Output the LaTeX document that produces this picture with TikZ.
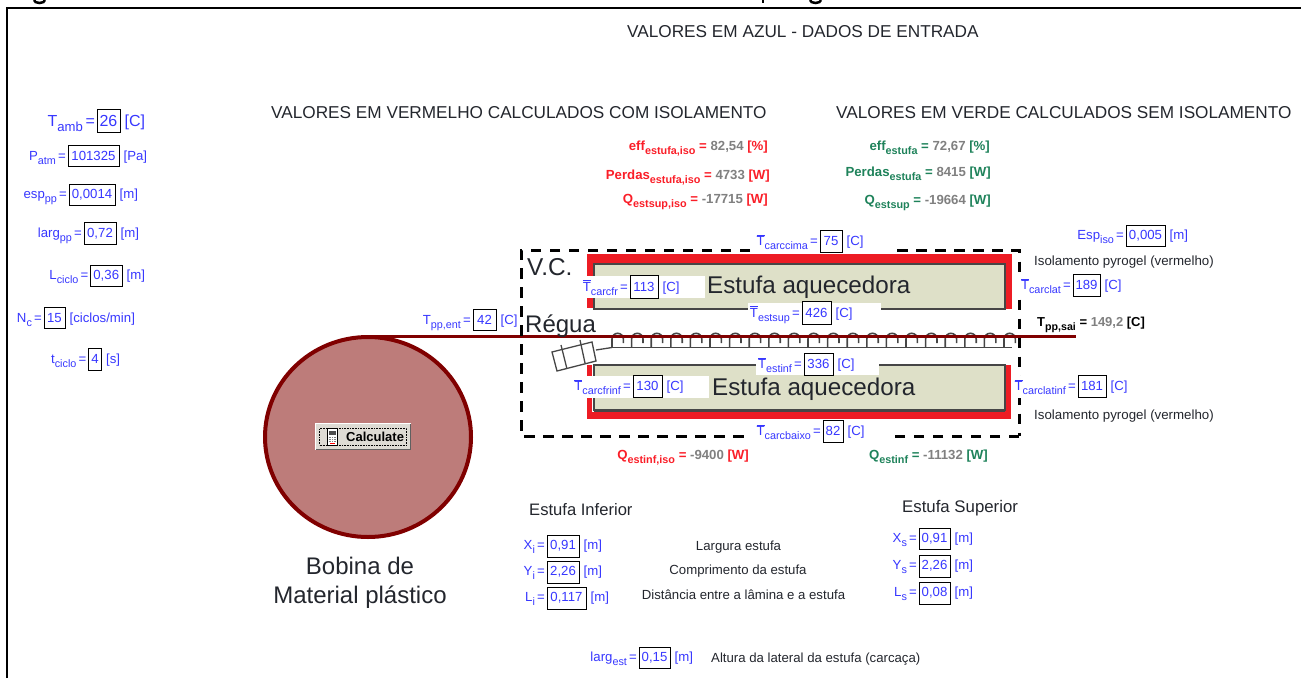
\documentclass[tikz,border=0pt]{standalone}
\usepackage{fontspec}
\usetikzlibrary{shapes.geometric}
\setmainfont{Liberation Sans}
\definecolor{inblue}{RGB}{55,55,255}
\definecolor{resred}{RGB}{250,30,40}
\definecolor{resgreen}{RGB}{30,130,90}
\definecolor{resgray}{RGB}{128,128,128}
\definecolor{coilred}{RGB}{128,0,0}
\definecolor{coilfill}{RGB}{189,124,122}
\definecolor{beige}{RGB}{222,224,200}
\definecolor{isored}{RGB}{237,28,36}
\definecolor{heatline}{RGB}{70,70,70}
\definecolor{btn}{RGB}{222,219,212}
\definecolor{dtxt}{RGB}{35,38,45}
\newcommand\fsz[1]{\fontsize{#1}{#1}\selectfont}
\newcommand\sbs[1]{\raisebox{-.32em}{\scalebox{.82}{#1}}}
\newcommand\Tbar{$\overline{\mbox{T}}$}
% \inp[size]{name}{xl}{xr}{yt}{yb}{label}{value}{unit}
\newcommand\inp[8][13.2]{%
  \node[boxv,font=\fsz{#1},minimum width={(#4)-(#3)},minimum height={(#6)-(#5)}] (#2) at ({(#3+#4)/2},{(#5+#6)/2}) {#8};
  \node[lbl,font=\fsz{#1},anchor=base east] (#2-l) at ([xshift=-1.5pt]#2.base west) {#7\,=};
}
\newcommand\unt[3][13.2]{\node[lbl,font=\fsz{#1},anchor=base west] (#2-u) at ([xshift=4pt]#2.base east) {#3};}
% \res{name}{xr}{y}{colour}{word}{sub}{value}{unit}
\newcommand\res[8]{\node[anchor=base east,inner sep=0pt,font=\fsz{13.2}\bfseries,text=#4] (#1) at (#2,#3) {#5\sbs{#6} = \textcolor{resgray}{#7} [#8]};}
\tikzset{
  boxv/.style={draw=black,line width=.9pt,fill=white,text=inblue,inner sep=0pt,align=center},
  lbl/.style={text=inblue,inner sep=0pt},
  plain/.style={text=dtxt,inner sep=0pt},
  title/.style={plain,font=\fsz{17.2},anchor=base west},
  cover/.style={fill=white,draw=none},
  heatbox/.style={fill=beige,draw=heatline,line width=1.6pt},
  hook/.style={draw=heatline,line width=1.6pt},
  vc/.style={line width=3pt,black,dash pattern=on 10.5pt off 8.5pt},
}
\begin{document}
\begin{tikzpicture}[x=1pt,y=-1pt]
\useasboundingbox (0,0) rectangle (1301,678);
% frame
\draw[line width=2pt,black] (6.5,678) -- (6.5,7.5) -- (1301,7.5);
\draw[line width=2.5pt,black] (34,0) arc[start angle=180,end angle=0,x radius=5.5,y radius=3];
\draw[line width=2pt,black] (763,0) -- (763,3);
\draw[line width=2.5pt,black] (810,0) arc[start angle=180,end angle=0,x radius=5.5,y radius=3];
% titles
\node[title] (t1) at (627,37.5) {VALORES EM AZUL - DADOS DE ENTRADA};
\node[title] (t2) at (271,118.5) {VALORES EM VERMELHO CALCULADOS COM ISOLAMENTO};
\node[title] (t3) at (836,118.5) {VALORES EM VERDE CALCULADOS SEM ISOLAMENTO};
% bobina
\node[ellipse,draw=coilred,fill=coilfill,line width=4pt,minimum width=206pt,minimum height=200pt,inner sep=0pt,outer sep=0pt] (bob) at (368,437) {};
\coordinate (lineend) at (1076,336.5);
% heaters: insulation
\fill[isored] (587,254) rectangle (1012,264);
\fill[isored] (587,254) rectangle (594,308);
\fill[isored] (1005,254) rectangle (1012,309);
\fill[isored] (587,412) rectangle (1011,419);
\fill[isored] (587,365) rectangle (592,419);
\fill[isored] (1005,365) rectangle (1011,419);
\node[heatbox,minimum width=411pt,minimum height=45pt,inner sep=0pt] (hs) at (799.5,286.5) {};
\node[heatbox,minimum width=411pt,minimum height=45pt,inner sep=0pt] (hi) at (799.5,387.5) {};
\draw[heatline,line width=.8pt] (594,411) -- (1005,411);
% coils
\coordinate (base0) at (612,347.5);
\coordinate (base1) at (1012,347.5);
\draw[hook] (base0) -- (base1);
\foreach \k in {0,...,20}{
  \draw[hook] ({612+19.6*\k},347.5) -- ({612+19.6*\k},339) arc[start angle=180,end angle=360,radius=5.7] -- ++(0,4);
}
\draw[coilred,line width=2.6pt] (bob.north |- lineend) -- (lineend);
% rollers
\draw[heatline,line width=1.3pt,fill=white] (552,352) -- (592,342) -- (596,361) -- (557,371) -- cycle;
\draw[heatline,line width=1.3pt] (561,345) -- (567,369) (580,340) -- (585,363);
\draw[heatline,line width=1.3pt] (596,350) -- (base0);
% control volume
\draw[vc] (750,250) -- (521,250) -- (521,436) -- (752,436);
\draw[vc] (1019,436) -- (892,436);
\draw[vc] (897,250.5) -- (1019,250.5) -- (1019,436);
% covers
\fill[cover] (584,276) rectangle (705,298);
\fill[cover] (574,376) rectangle (709,398);
\fill[cover] (748,303) rectangle (881,326);
\fill[cover] (756,357) rectangle (879,375);
\fill[cover] (1017.5,276) rectangle (1071,297);
\fill[cover] (1012,376) rectangle (1077,398);
\fill[cover] (752,231) rectangle (860,252.5);
\fill[cover] (752,421) rectangle (865,443);
% texts in the drawing
\node[plain,font=\fsz{24.2},anchor=base west] (est1) at (707,293) {Estufa aquecedora};
\node[plain,font=\fsz{24.2},anchor=base west] (est2) at (712,395) {Estufa aquecedora};
\node[plain,font=\fsz{24.4},anchor=base west] (vcl) at (527,275) {V.C.};
\node[plain,font=\fsz{24},anchor=base west] (reg) at (525,332.5) {Régua};
% button
\node[fill=btn,minimum width=95pt,minimum height=26pt,inner sep=0pt,outer sep=0pt] (btn) at (363,436.5) {};
\draw[white,line width=1.2pt] (btn.south west) -- (btn.north west) -- (btn.north east);
\draw[gray!75!black,line width=1.8pt] (btn.north east) -- (btn.south east) -- (btn.south west);
\node[draw=black,densely dotted,line width=.6pt,minimum width=87pt,minimum height=17pt,inner sep=0pt] (btni) at (363,436.5) {};
\node[draw=black,fill=white,line width=.8pt,minimum width=10pt,minimum height=17pt,inner sep=0pt] (calc) at (332,437) {};
\fill[black!70] (328.5,430.5) rectangle (335.5,435);
\fill[red] (330,442.5) rectangle (335,443.5);
\foreach \yy in {437,439,441}{\draw[gray,line width=.7pt,densely dotted] (328.5,\yy) -- (335.5,\yy);}
\node[inner sep=0pt,font=\fsz{13}\bfseries,anchor=base west] (calcl) at (346,441) {Calculate};
% bobina label
\node[plain,font=\fontsize{24}{29}\selectfont,align=center] (boblbl) at (360,583) {Bobina de\\Material plástico};
% left inputs
\inp[16]{tamb}{97}{120}{109}{132}{T\sbs{amb}}{26}\unt[16]{tamb}{[C]}
\inp{patm}{68}{119}{145}{166}{P\sbs{atm}}{101325}\unt{patm}{[Pa]}
\inp{esp}{69}{115}{184}{205}{esp\sbs{pp}}{0,0014}\unt{esp}{[m]}
\inp{larg}{84}{116}{222.5}{244}{larg\sbs{pp}}{0,72}\unt{larg}{[m]}
\inp{lcic}{90.5}{122}{265}{286.5}{L\sbs{ciclo}}{0,36}\unt{lcic}{[m]}
\inp{nc}{44}{65}{307}{328.5}{N\sbs{c}}{15}\unt{nc}{[ciclos/min]}
\inp{tcic}{88.5}{101.5}{348}{370}{t\sbs{ciclo}}{4}\unt{tcic}{[s]}
% drawing inputs
\inp{tent}{473}{496}{309}{330}{T\sbs{pp,ent}}{42}\unt{tent}{[C]}
\inp{tcima}{820}{842}{230}{252}{\Tbar\sbs{carccima}}{75}\unt{tcima}{[C]}
\inp{tfr}{630}{658}{275}{298}{\Tbar\sbs{carcfr}}{113}\unt{tfr}{[C]}
\inp{tsup}{802}{831}{301}{324}{\Tbar\sbs{estsup}}{426}\unt{tsup}{[C]}
\inp{tinf}{804}{833}{353}{375}{\Tbar\sbs{estinf}}{336}\unt{tinf}{[C]}
\inp{tfri}{633}{662}{375}{397}{\Tbar\sbs{carcfrinf}}{130}\unt{tfri}{[C]}
\inp{tlat}{1073}{1100}{274}{296}{\Tbar\sbs{carclat}}{189}\unt{tlat}{[C]}
\inp{tlati}{1078}{1106}{375}{397}{\Tbar\sbs{carclatinf}}{181}\unt{tlati}{[C]}
\inp{tbx}{823}{843}{420}{442}{\Tbar\sbs{carcbaixo}}{82}\unt{tbx}{[C]}
\inp{eiso}{1126}{1165}{225}{246}{Esp\sbs{iso}}{0,005}\unt{eiso}{[m]}
\node[plain,font=\fsz{13.3},anchor=base west] (iso1) at (1034,265.5) {Isolamento pyrogel (vermelho)};
\node[plain,font=\fsz{13.3},anchor=base west] (iso2) at (1034,419) {Isolamento pyrogel (vermelho)};
% exit temperature
\node[anchor=base west,inner sep=0pt,font=\fsz{13}\bfseries,text=black] (tsai) at (1037,326.5) {T\sbs{pp,sai} = \textcolor{resgray}{149,2} [C]};
% results
\res{r1}{768}{150}{resred}{eff}{estufa,iso}{82,54}{\%}
\res{r2}{770}{179}{resred}{Perdas}{estufa,iso}{4733}{W}
\res{r3}{768}{203}{resred}{Q}{estsup,iso}{-17715}{W}
\res{g1}{990}{150}{resgreen}{eff}{estufa}{72,67}{\%}
\res{g2}{991}{176}{resgreen}{Perdas}{estufa}{8415}{W}
\res{g3}{991}{204}{resgreen}{Q}{estsup}{-19664}{W}
\res{r4}{749}{459}{resred}{Q}{estinf,iso}{-9400}{W}
\res{g4}{988}{459}{resgreen}{Q}{estinf}{-11132}{W}
% estufa parameters
\node[plain,font=\fsz{16.6},anchor=base west] (ei) at (529,515.5) {Estufa Inferior};
\node[plain,font=\fsz{16.8},anchor=base west] (es) at (902,512) {Estufa Superior};
\inp{xi}{547}{579}{535}{557}{X\sbs{i}}{0,91}\unt{xi}{[m]}
\inp{yi}{547}{579}{561}{583}{Y\sbs{i}}{2,26}\unt{yi}{[m]}
\inp{li}{547}{586}{587}{609}{L\sbs{i}}{0,117}\unt{li}{[m]}
\inp{xs}{919}{950}{528}{549}{X\sbs{s}}{0,91}\unt{xs}{[m]}
\inp{ys}{919}{950}{555}{577}{Y\sbs{s}}{2,26}\unt{ys}{[m]}
\inp{ls}{919}{950}{582}{604}{L\sbs{s}}{0,08}\unt{ls}{[m]}
\inp{lest}{639}{670}{647}{668}{larg\sbs{est}}{0,15}\unt{lest}{[m]}
\node[plain,font=\fsz{13.2}] (d1) at (738.5,547) {Largura estufa};
\node[plain,font=\fsz{13.2}] (d2) at (738,571) {Comprimento da estufa};
\node[plain,font=\fsz{13.2}] (d3) at (743.5,595) {Distância entre a lâmina e a estufa};
\node[plain,font=\fsz{13.2},anchor=base west] (d4) at (711,662) {Altura da lateral da estufa (carcaça)};
\end{tikzpicture}
\end{document}
